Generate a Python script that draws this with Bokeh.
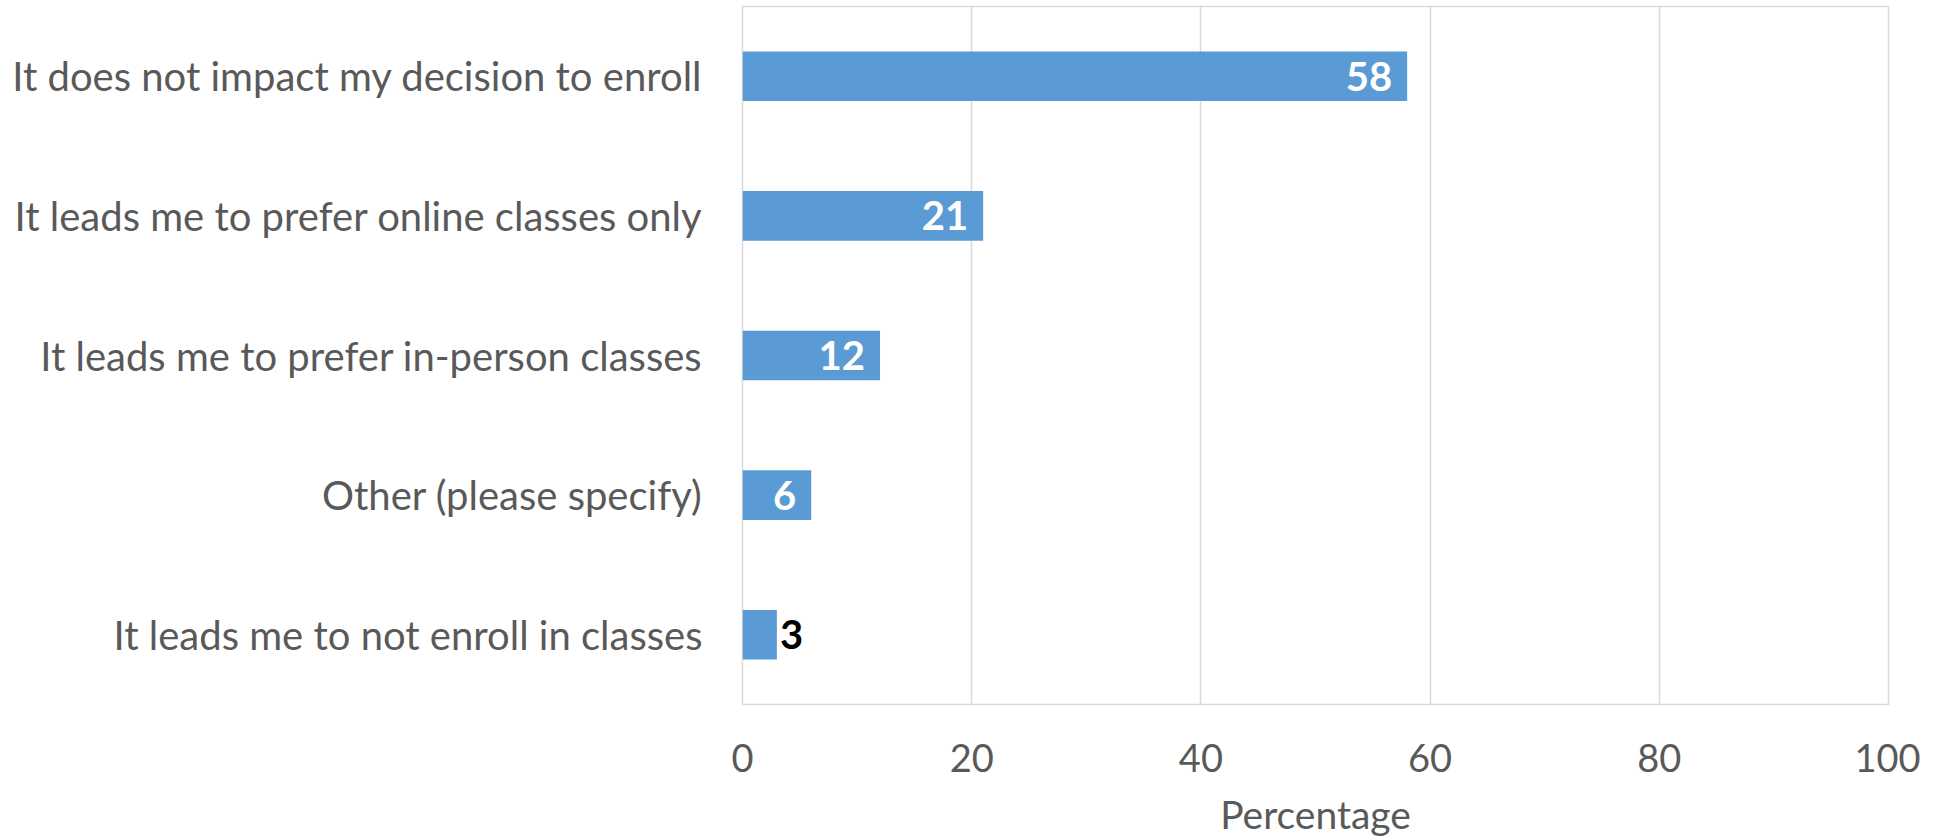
from bokeh.plotting import figure
from bokeh.models import ColumnDataSource, FactorRange, Range1d, FixedTicker
from bokeh.core.properties import value
from bokeh.embed import file_html
from bokeh.resources import INLINE

categories = [
    "It does not impact my decision to enroll",
    "It leads me to prefer online classes only",
    "It leads me to prefer in-person classes",
    "Other (please specify)",
    "It leads me to not enroll in classes",
]
percentages = [58, 21, 12, 6, 3]
x_ticks = [0, 20, 40, 60, 80, 100]
x_label = "Percentage"

FONT = "Lato"
GRAY = "#595959"
BAR = "#5B9BD5"
GRID = "#D9D9D9"

inside = [v > 5 for v in percentages]
src = ColumnDataSource(dict(
    cat=categories,
    val=percentages,
    lbl=[str(v) for v in percentages],
    col=["white" if i else "black" for i in inside],
    align=["right" if i else "left" for i in inside],
    xoff=[-15 if i else 3 for i in inside],
))

p = figure(
    width=1920, height=839,
    y_range=FactorRange(factors=list(reversed(categories))),
    x_range=Range1d(0, 100),
    output_backend="svg", toolbar_location=None,
    min_border_left=742, min_border_right=32, min_border_top=6, min_border_bottom=135,
)

p.hbar(y="cat", right="val", left=0, height=0.355, source=src,
       fill_color=BAR, line_color=None)

p.text(x="val", y="cat", text="lbl", source=src, text_color="col",
       text_align="align", text_baseline="middle", x_offset="xoff",
       text_font=value(FONT), text_font_style="bold", text_font_size="40px")

p.outline_line_color = GRID
p.outline_line_width = 1.5
p.ygrid.grid_line_color = None
p.xgrid.grid_line_color = GRID
p.xgrid.grid_line_width = 1.5

p.xaxis.ticker = FixedTicker(ticks=x_ticks)
p.xaxis.axis_label = x_label
for ax in (p.xaxis[0], p.yaxis[0]):
    ax.axis_line_color = None
    ax.major_tick_line_color = None
    ax.minor_tick_line_color = None
    ax.major_tick_out = 0
    ax.major_tick_in = 0
    ax.major_label_text_font = FONT
    ax.major_label_text_color = GRAY

p.yaxis.major_label_text_font_size = "40px"
p.xaxis.major_label_text_font_size = "38px"
p.xaxis.major_label_standoff = 39
p.xaxis.axis_label_text_font = FONT
p.xaxis.axis_label_text_color = GRAY
p.xaxis.axis_label_text_font_size = "39px"
p.xaxis.axis_label_text_font_style = "normal"
p.xaxis.axis_label_standoff = 16
p.yaxis.major_label_standoff = 40

open("out.html", "w").write(file_html(p, INLINE))
